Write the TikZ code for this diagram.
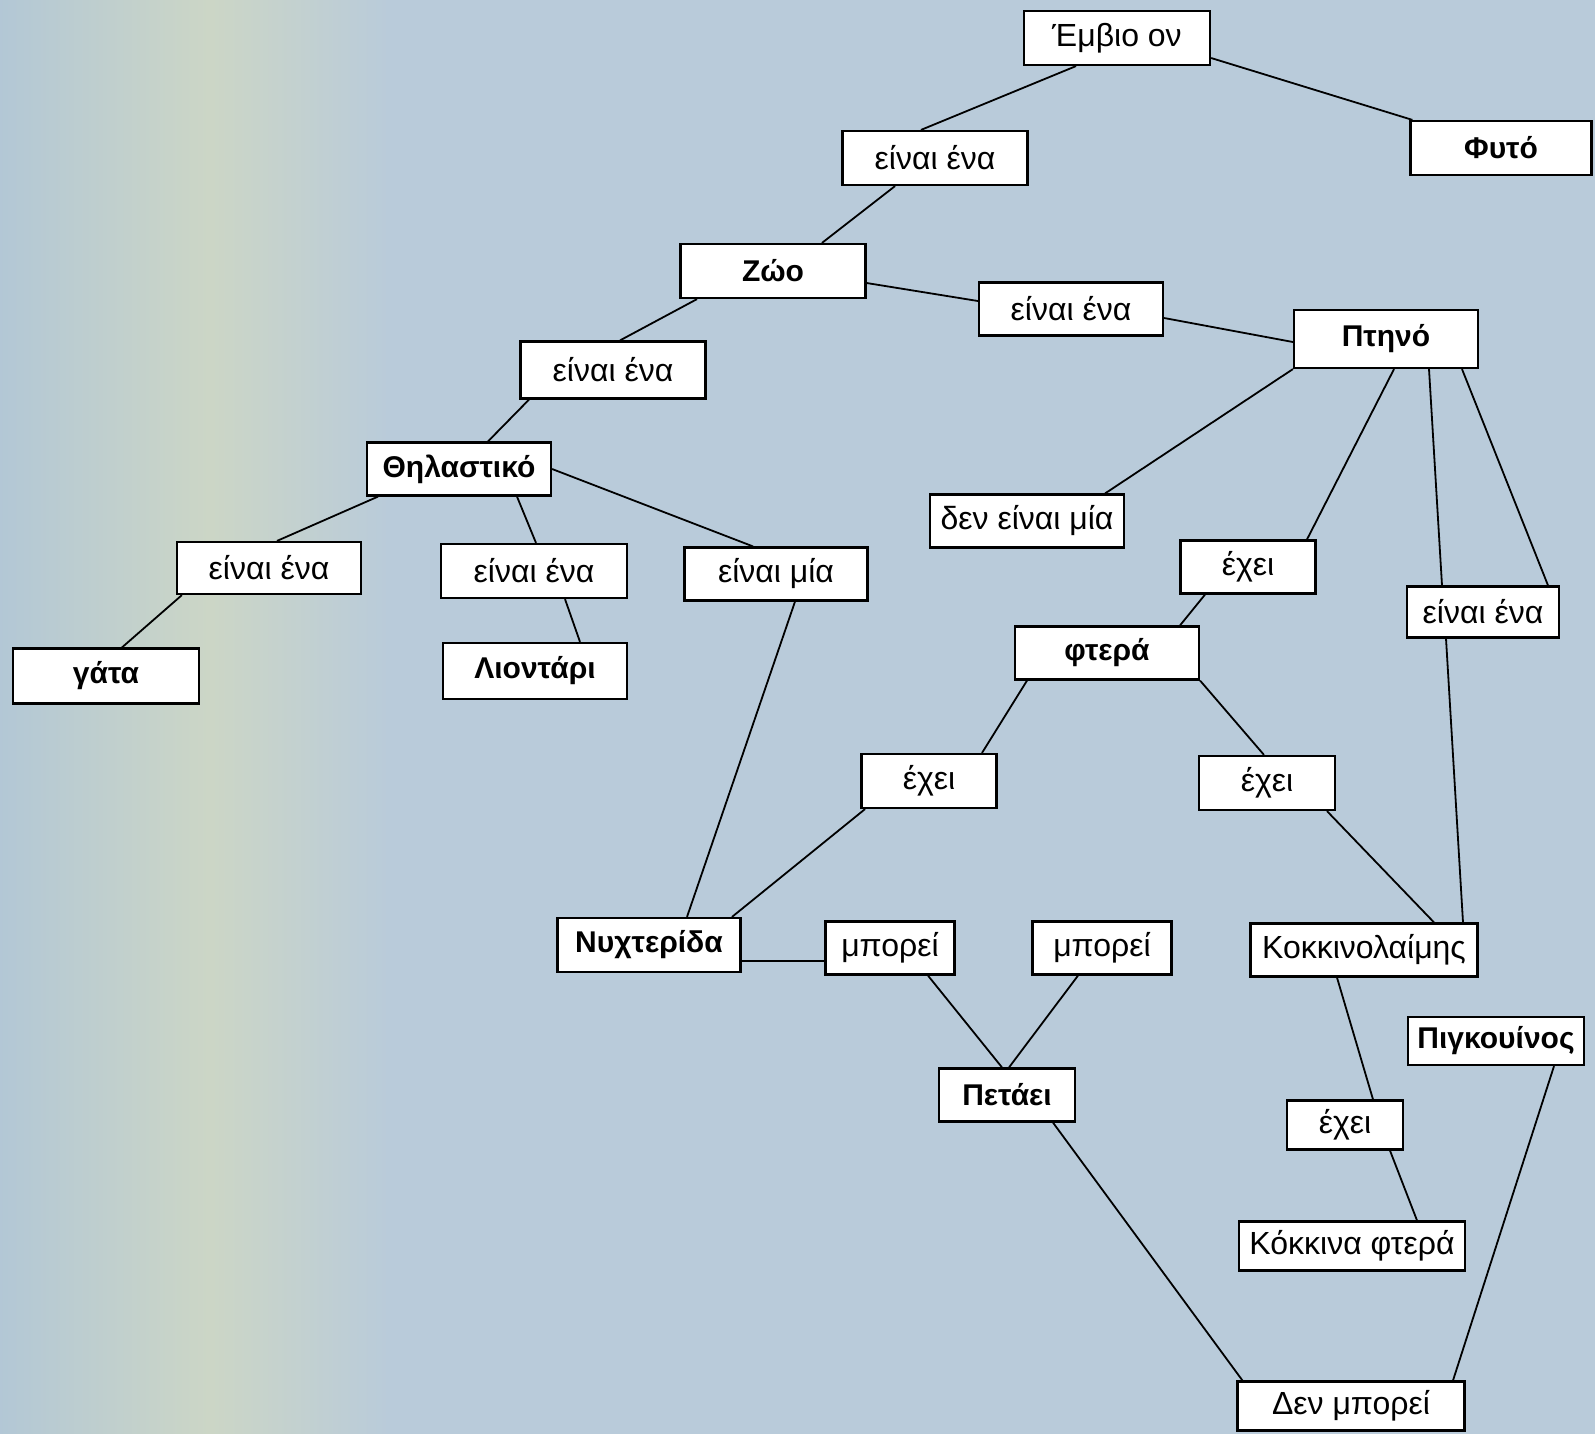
\documentclass[tikz,border=0pt]{standalone}
\usepackage{fontspec}
\setmainfont{Liberation Sans}
\definecolor{paper}{RGB}{185,203,218}
\definecolor{paperleft}{RGB}{178,199,214}
\definecolor{papermid}{RGB}{204,214,198}
\begin{document}
\begin{tikzpicture}[x=1pt,y=-1pt,
  concept/.style={draw, fill=white, line width=2.2pt, minimum height=54pt, inner sep=0pt, font=\fontsize{30}{32}\selectfont\bfseries},
  link/.style={draw, fill=white, line width=2.2pt, minimum height=54pt, inner sep=0pt, font=\fontsize{32}{34}\selectfont},
  conn/.style={line width=1.8pt}]

\useasboundingbox (0,0) rectangle (1595,1433);
\fill[paper] (-5,-5) rectangle (1600,1440);
\shade[left color=paperleft, right color=papermid] (-5,-5) rectangle (210,1440);
\shade[left color=papermid, right color=paper] (210,-5) rectangle (390,1440);

\node[link, minimum width=186pt] (emvio) at (1117,38) {Έμβιο ον};
\node[concept, minimum width=181pt] (fyto) at (1501,148) {Φυτό};
\node[link, minimum width=185pt] (einai1) at (935,158) {είναι ένα};
\node[concept, minimum width=185pt] (zoo) at (773,271) {Ζώο};
\node[link, minimum width=184pt, minimum height=53pt] (einai2) at (1071,309) {είναι ένα};
\node[concept, minimum width=184pt, minimum height=58pt] (ptino) at (1386,339) {Πτηνό};
\node[link, minimum width=185pt, minimum height=57pt] (einai3) at (613,370) {είναι ένα};
\node[concept, minimum width=184pt, minimum height=53pt] (thilastiko) at (459,469) {Θηλαστικό};
\node[link, minimum width=194pt, minimum height=53pt] (denmia) at (1027,521) {δεν είναι μία};
\node[link, minimum width=135pt, minimum height=53pt] (exei1) at (1248,567) {έχει};
\node[link, minimum width=184pt, minimum height=52pt] (einai4) at (269,568) {είναι ένα};
\node[link, minimum width=186pt] (einai5) at (534,571) {είναι ένα};
\node[link, minimum width=183pt, minimum height=53pt] (einaimia) at (776,574) {είναι μία};
\node[link, minimum width=152pt, minimum height=51pt] (einai6) at (1483,612) {είναι ένα};
\node[concept, minimum width=186pt, minimum height=55pt] (gata) at (106,676) {γάτα};
\node[concept, minimum width=184pt, minimum height=56pt] (liontari) at (535,671) {Λιοντάρι};
\node[concept, minimum width=184pt, minimum height=53pt] (ftera) at (1107,653) {φτερά};
\node[link, minimum width=135pt] (exei2) at (929,781) {έχει};
\node[link, minimum width=136pt] (exei3) at (1267,783) {έχει};
\node[concept, minimum width=183pt] (nyxterida) at (649,945) {Νυχτερίδα};
\node[link, minimum width=129pt, minimum height=53pt] (mporei1) at (890,948) {μπορεί};
\node[link, minimum width=139pt, minimum height=53pt] (mporei2) at (1102,948) {μπορεί};
\node[link, minimum width=227pt, minimum height=53pt] (kokkinolaimis) at (1364,950) {Κοκκινολαίμης};
\node[concept, minimum width=176pt, minimum height=48pt] (pigkouinos) at (1496,1041) {Πιγκουίνος};
\node[concept, minimum width=136pt, minimum height=53pt] (petaei) at (1007,1095) {Πετάει};
\node[link, minimum width=116pt, minimum height=49pt] (exei4) at (1345,1125) {έχει};
\node[link, minimum width=226pt, minimum height=49pt] (kokkinaftera) at (1352,1246) {Κόκκινα φτερά};
\node[link, minimum width=227pt, minimum height=49pt] (denmporei) at (1351,1406) {Δεν μπορεί};

\draw[conn] ([xshift=-41pt]emvio.south) -- ([xshift=-14pt]einai1.north);
\draw[conn] ([yshift=-20pt]emvio.east) -- ([xshift=3pt]fyto.north west);
\draw[conn] ([xshift=-40pt]einai1.south) -- ([xshift=49pt]zoo.north);
\draw[conn] ([yshift=-12pt]zoo.east) -- ([yshift=8pt]einai2.west);
\draw[conn] ([yshift=-9pt]einai2.east) -- ([yshift=-3pt]ptino.west);
\draw[conn] ([xshift=-76pt]zoo.south) -- ([xshift=7pt]einai3.north);
\draw[conn] ([xshift=-84pt]einai3.south) -- ([xshift=29pt]thilastiko.north);
\draw[conn] ([xshift=-81pt]thilastiko.south) -- ([xshift=8pt]einai4.north);
\draw[conn] ([xshift=6pt]einai4.south west) -- ([xshift=16pt]gata.north);
\draw[conn] ([xshift=58pt]thilastiko.south) -- ([xshift=2pt]einai5.north);
\draw[conn] ([xshift=31pt]einai5.south) -- ([xshift=45pt]liontari.north);
\draw[conn] (thilastiko.east) -- ([xshift=-23pt]einaimia.north);
\draw[conn] ([xshift=19pt]einaimia.south) -- ([xshift=38pt]nyxterida.north);
\draw[conn] (ptino.south west) -- ([xshift=-20pt]denmia.north east);
\draw[conn] ([xshift=8pt]ptino.south) -- ([xshift=59pt]exei1.north);
\draw[conn] ([xshift=-43pt]exei1.south) -- ([xshift=73pt]ftera.north);
\draw[conn] ([xshift=43pt]ptino.south) -- ([xshift=-41pt]einai6.north);
\draw[conn] ([xshift=76pt]ptino.south) -- ([xshift=65pt]einai6.north);
\draw[conn] ([xshift=-37pt]einai6.south) -- ([xshift=99pt]kokkinolaimis.north);
\draw[conn] ([xshift=-80pt]ftera.south) -- ([xshift=53pt]exei2.north);
\draw[conn] (ftera.south east) -- ([xshift=-3pt]exei3.north);
\draw[conn] ([xshift=-64pt]exei2.south) -- ([xshift=83pt]nyxterida.north);
\draw[conn] ([xshift=60pt]exei3.south) -- ([xshift=70pt]kokkinolaimis.north);
\draw[conn] ([yshift=-16pt]nyxterida.east) -- ([yshift=-13pt]mporei1.west);
\draw[conn] ([xshift=38pt]mporei1.south) -- ([xshift=-5pt]petaei.north);
\draw[conn] ([xshift=-24pt]mporei2.south) -- ([xshift=2pt]petaei.north);
\draw[conn] ([xshift=46pt]petaei.south) -- ([xshift=6pt]denmporei.north west);
\draw[conn] ([xshift=-27pt]kokkinolaimis.south) -- ([xshift=28pt]exei4.north);
\draw[conn] ([xshift=45pt]exei4.south) -- ([xshift=65pt]kokkinaftera.north);
\draw[conn] ([xshift=58pt]pigkouinos.south) -- ([xshift=102pt]denmporei.north);
\end{tikzpicture}
\end{document}
